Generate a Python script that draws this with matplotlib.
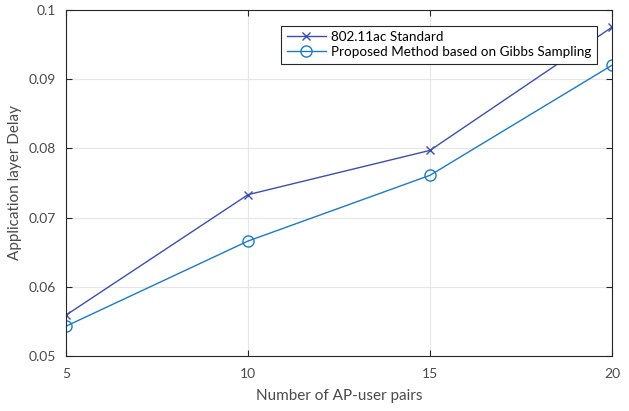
import numpy as np
import matplotlib
matplotlib.use('Agg')
import matplotlib.pyplot as plt

plt.rcParams['font.family'] = ['Lato', 'DejaVu Sans']

# data
pairs = [5, 10, 15, 20]
delay_standard = [0.0559, 0.0733, 0.0797, 0.0975]
delay_gibbs = [0.0543, 0.0666, 0.0761, 0.0920]
x_ticks = [5, 10, 15, 20]
y_ticks = [0.05, 0.06, 0.07, 0.08, 0.09, 0.1]
y_tick_labels = ['0.05', '0.06', '0.07', '0.08', '0.09', '0.1']

axis_color = '#262626'
text_color = '#4a4a4a'

fig = plt.figure(figsize=(6.29, 4.11), dpi=100)
ax = fig.add_axes([0.105, 0.134, 0.868, 0.842])

ax.plot(pairs, delay_standard, color='#3c4fb0', linewidth=1.0, marker='x',
        markersize=6, markeredgewidth=1.0, label='802.11ac Standard')
ax.plot(pairs, delay_gibbs, color='#1a7acc', linewidth=1.0, marker='o',
        markersize=8, markerfacecolor='none', markeredgewidth=1.0,
        label='Proposed Method based on Gibbs Sampling')

ax.set_xlim(5, 20)
ax.set_ylim(0.05, 0.1)
ax.set_xticks(x_ticks)
ax.set_yticks(y_ticks)
ax.set_yticklabels(y_tick_labels)
ax.grid(True, color='#e6e6e6', linewidth=0.8)
ax.set_axisbelow(True)

ax.tick_params(direction='in', length=4.5, width=0.8, colors=axis_color,
               labelcolor=text_color, labelsize=10, top=True, right=True,
               pad=7)
ax.tick_params(axis='x', pad=9)
for s in ax.spines.values():
    s.set_color(axis_color)
    s.set_linewidth(0.8)

ax.set_xlabel('Number of AP-user pairs', fontsize=11, color=text_color,
              labelpad=6)
ax.set_ylabel('Application layer Delay', fontsize=11, color=text_color,
              labelpad=5)

leg = ax.legend(loc='upper right', bbox_to_anchor=(0.9725, 0.954),
                borderaxespad=0, fontsize=9.7, fancybox=False, framealpha=1,
                edgecolor=axis_color, handlelength=2.9, borderpad=0.4,
                labelspacing=0.22, handletextpad=0.4)
leg.get_frame().set_linewidth(0.8)

fig.savefig('out.png', dpi=100)
